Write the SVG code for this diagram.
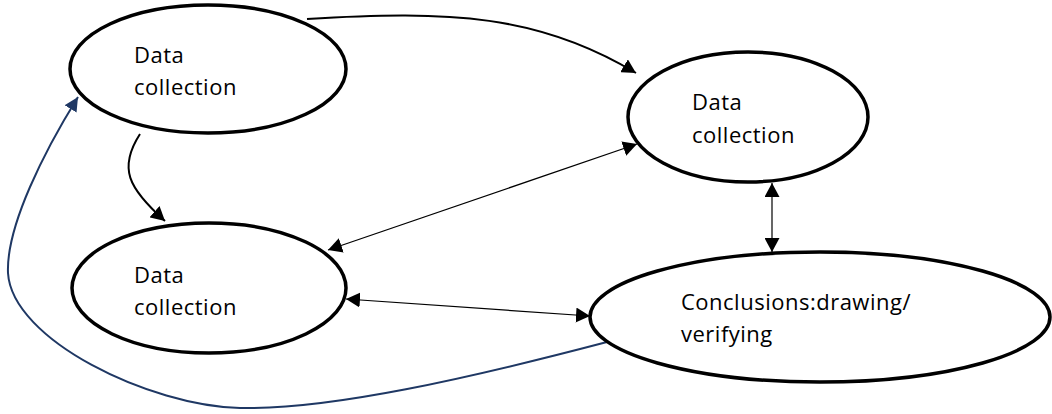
<svg xmlns="http://www.w3.org/2000/svg" width="1052" height="414" viewBox="0 0 1052 414">
<style>
.node{fill:#fff;stroke:#000;stroke-width:3.5}
.lbl{font-family:"Open Sans","Liberation Sans",sans-serif;font-size:22px;letter-spacing:0.5px;fill:#000}
.c{fill:none;stroke:#000}
</style>
<defs>
<marker id="ah" markerUnits="userSpaceOnUse" markerWidth="14" markerHeight="15" refX="14" refY="7.5" orient="auto-start-reverse" viewBox="0 0 14 15"><path d="M0,0L14,7.5L0,15z" fill="#000"/></marker>
<marker id="ahn" markerUnits="userSpaceOnUse" markerWidth="14" markerHeight="14" refX="14" refY="7" orient="auto" viewBox="0 0 14 14"><path d="M0,0L14,7L0,14z" fill="#1F3864"/></marker>
</defs>
<g id="connectors">
<path class="c" stroke-width="2" d="M307,19 C450,10 540,15 636,73" marker-end="url(#ah)"/>
<path class="c" stroke-width="2" d="M140,134 C118,168 128,188 165,221" marker-end="url(#ah)"/>
<path class="c" stroke-width="1.2" d="M328,250 L637,144" marker-start="url(#ah)" marker-end="url(#ah)"/>
<path class="c" stroke-width="1.2" d="M346,299 L590,316" marker-start="url(#ah)" marker-end="url(#ah)"/>
<path class="c" stroke-width="1.2" d="M772,183 L772,252" marker-start="url(#ah)" marker-end="url(#ah)"/>
<path fill="none" stroke="#1F3864" stroke-width="2" d="M607,342 C470,378 330,410 240,408 C150,406 12,340 8,273 C6,226 45,150 78,97" marker-end="url(#ahn)"/>
</g>
<g id="node1">
<ellipse class="node" cx="208" cy="69" rx="138" ry="64"/>
<text class="lbl" x="134" y="63">Data</text>
<text class="lbl" x="134" y="95">collection</text>
</g>
<g id="node2">
<ellipse class="node" cx="748" cy="117" rx="120" ry="65"/>
<text class="lbl" x="692" y="110">Data</text>
<text class="lbl" x="692" y="143">collection</text>
</g>
<g id="node3">
<ellipse class="node" cx="209" cy="288" rx="137" ry="65"/>
<text class="lbl" x="134" y="283">Data</text>
<text class="lbl" x="134" y="315">collection</text>
</g>
<g id="node4">
<ellipse class="node" cx="820" cy="317" rx="230" ry="65"/>
<text class="lbl" x="681" y="310">Conclusions:drawing/</text>
<text class="lbl" x="681" y="342">verifying</text>
</g>
</svg>
